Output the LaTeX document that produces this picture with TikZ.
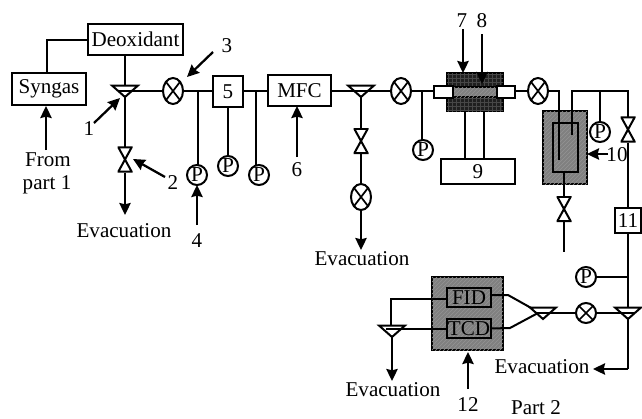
\documentclass[tikz,border=0pt]{standalone}
\usepackage{fontspec}
\setmainfont{Liberation Serif}
\usetikzlibrary{shapes.geometric,arrows.meta,patterns}
\tikzset{
  wh/.style 2 args={minimum width=#1*0.75pt,minimum height=#2*0.75pt},
  lbl/.style={inner sep=0pt,outer sep=0pt,font=\fontsize{15.8}{17}\selectfont},
  bx/.style={draw,line width=1.5pt,inner sep=0pt,outer sep=0pt,fill=white,font=\fontsize{15.8}{17}\selectfont},
  pipe/.style={line width=1.5pt},
  arr/.style={line width=1.7pt,-{Stealth[length=9pt,width=8.5pt,inset=1pt]}},
  xvalve/.style={ellipse,draw,line width=1.5pt,fill=white,inner sep=0pt,outer sep=0pt,wh={20}{26},
    path picture={\draw[line width=1.3pt] (path picture bounding box.north west)--(path picture bounding box.south east)
      (path picture bounding box.north east)--(path picture bounding box.south west);}},
  gauge/.style={circle,draw,line width=1.5pt,fill=white,inner sep=0pt,outer sep=0pt,wh={20}{20},font=\fontsize{16}{16}\selectfont},
  tee/.style={isosceles triangle,isosceles triangle apex angle=97,shape border rotate=-90,draw,line width=1.5pt,
    fill=white,inner sep=0pt,outer sep=0pt,minimum height=8.5pt,anchor=apex},
  bowtie/.style={inner sep=0pt,outer sep=0pt,wh={15}{26},
    path picture={\draw[line width=1.5pt]
      ([shift={(.6pt,-.6pt)}]path picture bounding box.north west)--([shift={(-.6pt,-.6pt)}]path picture bounding box.north east)
      --([shift={(.6pt,.6pt)}]path picture bounding box.south west)--([shift={(-.6pt,.6pt)}]path picture bounding box.south east)--cycle;}},
  graybox/.style={draw,line width=1.5pt,inner sep=0pt,outer sep=0pt,fill=black!50,
    postaction={pattern=north east lines,pattern color=black!42}},
  darkbox/.style={inner sep=0pt,outer sep=0pt,fill=black!88,draw=black,line width=1pt,
    postaction={pattern=grid,pattern color=black!72}},
}
\begin{document}
\begin{tikzpicture}[x=0.75pt,y=-0.75pt]
\useasboundingbox (0,0) rectangle (642,418);
% Boxes
\node[bx,wh={95}{31}] (deox) at (135.5,39.5) {Deoxidant};
\node[bx,wh={74}{32}] (syn) at (49,89) {Syngas};
\node[bx,wh={30}{31}] (b5) at (228,91.5) {5};
\node[bx,wh={63}{31}] (mfc) at (299.5,90.5) {MFC};
\node[bx,wh={74}{25}] (b9) at (478,171.5) {9};
\node[bx,wh={26}{25}] (b11) at (628,220.5) {11};
% Tees
\node[tee] (t1) at (125,97) {};
\node[tee] (t2) at (361,97) {};
\node[tee] (t3) at (628,319) {};
\node[tee] (t4) at (543,319) {};
\node[tee] (t5) at (392,337) {};
% X valves
\node[xvalve] (x1) at (173,91) {};
\node[xvalve] (x2) at (401,91) {};
\node[xvalve] (x3) at (361,197) {};
\node[xvalve] (x4) at (538,91) {};
\node[xvalve,wh={20}{20}] (x5) at (586,313) {};
% Bowties
\node[bowtie] (v1) at (125,159.5) {};
\node[bowtie] (v2) at (361,141) {};
\node[bowtie] (v3) at (564,209) {};
\node[bowtie] (v4) at (628,129.5) {};
% Gauges
\node[gauge] (p1) at (197,175) {P};
\node[gauge] (p2) at (228,166) {P};
\node[gauge] (p3) at (259,175) {P};
\node[gauge] (p4) at (423,150) {P};
\node[gauge] (p5) at (600,132) {P};
\node[gauge] (p6) at (586,277) {P};
% Reactor
\node[darkbox,wh={56}{38}] (furn) at (475,92) {};
\node[inner sep=0pt,outer sep=0pt,fill=black!50,draw=black,line width=.8pt,wh={44}{10},
  postaction={pattern=north east lines,pattern color=black!42}] (core) at (475,92) {};
\node[bx,wh={19}{12}] (sl) at (443.5,92) {};
\node[bx,wh={18}{12}] (sr) at (506,92) {};
% Trap 10
\node[graybox,wh={44}{73}] (trap) at (565,147.5) {};
\node[draw,line width=1.5pt,inner sep=0pt,outer sep=0pt,wh={25}{49}] (trapin) at (565.5,147.5) {};
% Detector block
\node[graybox,wh={71}{73}] (det) at (467.5,313.5) {};
\node[draw,line width=1.5pt,inner sep=0pt,outer sep=0pt,wh={44}{19},font=\fontsize{15.8}{17}\selectfont] (fid) at (469,297.5) {FID};
\node[draw,line width=1.5pt,inner sep=0pt,outer sep=0pt,wh={44}{19},font=\fontsize{15.8}{17}\selectfont] (tcd) at (469,328.5) {TCD};
% Labels
\node[lbl] (ev1) at (124,231) {Evacuation};
\node[lbl] (ev2) at (362,259) {Evacuation};
\node[lbl] (ev3) at (393,390) {Evacuation};
\node[lbl] (ev4) at (542,367) {Evacuation};
\node[lbl] (from) at (48,160) {From};
\node[lbl] (part) at (47,185) {part 1};
\node[lbl] (n1) at (89,129) {1};
\node[lbl] (n2) at (173,183) {2};
\node[lbl] (n3) at (227,46) {3};
\node[lbl] (n4) at (197,241) {4};
\node[lbl] (n6) at (297,170) {6};
\node[lbl] (n7) at (462,21) {7};
\node[lbl] (n8) at (482,21) {8};
\node[lbl] (n10) at (617,155) {10};
\node[lbl] (n12) at (468,405) {12};
\node[lbl] (part2) at (536,408) {Part 2};
% Free points
\coordinate (j1) at (198,91);
\coordinate (j2) at (256,91);
\coordinate (j3) at (422,91);
\coordinate (a1) at (94,123);
\coordinate (a1t) at (120,98);
\coordinate (a2) at (165,177);
\coordinate (a2t) at (133,159);
\coordinate (a3) at (213,52);
\coordinate (a3t) at (187,77);
\coordinate (a4) at (197,225);
\coordinate (a6) at (297,157);
\coordinate (a7) at (463,29);
\coordinate (a7t) at (463,73);
\coordinate (a8) at (482,34);
\coordinate (a8t) at (482,84);
\coordinate (a10) at (608,154);
\coordinate (a10t) at (587,154);
\coordinate (a12) at (468,389);
\coordinate (a12t) at (468,352);
\coordinate (afrom) at (46,150);
\coordinate (afromt) at (46,106);
\coordinate (e1) at (125,215);
\coordinate (e2) at (361,250);
\coordinate (e3) at (392,381);
\coordinate (e4) at (593,369);
\coordinate (c4) at (628,369);
\coordinate (dl) at (559,160);
\coordinate (dr) at (572,135);
\coordinate (dl0) at (559,91);
\coordinate (dr0) at (572,91);
\coordinate (dp) at (600,91);
\coordinate (dc) at (628,91);
\coordinate (dv) at (564,252);
\coordinate (j6) at (628,277);
\coordinate (g3) at (256,165);
% Pipes
\draw[pipe] (deox.west) -| (syn.north -| 47,0);
\draw[pipe] (deox.south -| t1.lower side) -- (t1.lower side);
\draw[pipe] (t1.right side |- x1.west) -- (x1.west);
\draw[pipe] (x1.east) -- (b5.west |- x1.east);
\draw[pipe] (j1) -- (j1 |- p1.north);
\draw[pipe] (b5.south) -- (p2.north);
\draw[pipe] (b5.east |- j2) -- (mfc.west |- j2);
\draw[pipe] (j2) -- (g3);
\draw[pipe] (t1.apex) -- (v1.north);
\draw[pipe] (mfc.east |- x2.west) -- (t2.left side |- x2.west);
\draw[pipe] (t2.right side |- x2.west) -- (x2.west);
\draw[pipe] (t2.apex) -- (v2.north);
\draw[pipe] (v2.south) -- (x3.north);
\draw[pipe] (x2.east) -- (sl.west |- x2.east);
\draw[pipe] (j3) -- (j3 |- p4.north);
\draw[pipe] (sr.east |- x4.west) -- (x4.west);
\draw[pipe] (x4.east) -- (dl0) -- (dl);
\draw[pipe] (dr) -- (dr0) -- (dc) -- (v4.north);
\draw[pipe] (dp) -- (dp |- p5.north);
\draw[pipe] (v4.south) -- (b11.north);
\draw[pipe] (trapin.south -| v3.north) -- (v3.north);
\draw[pipe] (v3.south) -- (dv);
\draw[pipe] (b11.south) -- (t3.lower side);
\draw[pipe] (p6.east) -- (j6);
\draw[pipe] (t3.left side |- x5.east) -- (x5.east);
\draw[pipe] (x5.west) -- (t4.right side |- x5.west);
\draw[pipe] (fid.east |- 0,295) -- (508,295) -- (533,309);
\draw[pipe] (tcd.east) -- (510,328) -- (538,313);
\draw[pipe] (fid.west |- 0,299) -- (391,299) -- (391,326);
\draw[pipe] (tcd.west) -- (t5.right side |- tcd.west);
\draw[pipe] (furn.south -| 465,0) -- (b9.north -| 465,0);
\draw[pipe] (furn.south -| 484,0) -- (b9.north -| 484,0);
% Arrows
\draw[arr] (v1.south) -- (e1);
\draw[arr] (x3.south) -- (e2);
\draw[arr] (t5.apex) -- (e3);
\draw[pipe] (t3.apex) -- (c4);
\draw[arr] (c4) -- (e4);
\draw[arr] (a1) -- (a1t);
\draw[arr] (a2) -- (a2t);
\draw[arr] (a3) -- (a3t);
\draw[arr] (a4) -- (a4 |- p1.south);
\draw[arr] (a6) -- (a6 |- mfc.south);
\draw[arr] (a7) -- (a7t);
\draw[arr] (a8) -- (a8t);
\draw[arr] (a10) -- (a10t);
\draw[arr] (a12) -- (a12t);
\draw[arr] (afrom) -- (afromt);
\end{tikzpicture}
\end{document}
